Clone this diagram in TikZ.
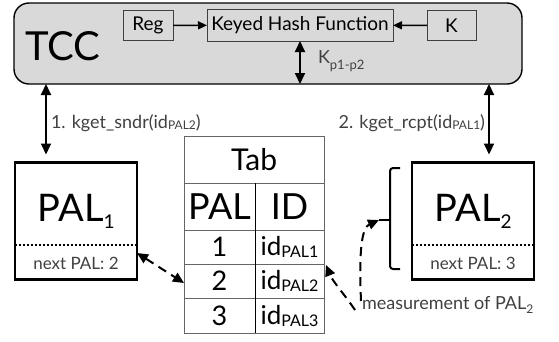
\documentclass[tikz,border=0pt]{standalone}
\usepackage{fontspec}
\setmainfont{Lato}
\usetikzlibrary{arrows.meta}
\newcommand{\fs}[1]{\fontsize{#1}{#1}\selectfont}
\newcommand{\lsub}[3]{\raisebox{#1}{\fs{#2}#3}}
\begin{document}
\begin{tikzpicture}[x=1pt,y=-1pt,
  box/.style={draw, inner sep=0pt, outer sep=0pt},
  tccbox/.style={box, rounded corners=15pt, fill=gray!30, line width=1.4pt, minimum width=508pt, minimum height=81pt},
  smallbox/.style={box, draw=black!75, fill=gray!30, line width=0.9pt, font=\fs{19}},
  palbox/.style={box, line width=2.4pt, minimum width=122pt, minimum height=117pt},
  cell/.style={box, draw=black!60, line width=0.8pt},
  txt/.style={inner sep=0pt, outer sep=0pt},
  lbl/.style={txt, text=black!75, font=\fs{18}},
  sarr/.style={line width=1.5pt, -{Triangle[length=9pt,width=8pt]}},
  darr/.style={line width=2pt, {Triangle[length=11pt,width=10pt]}-{Triangle[length=11pt,width=10pt]}},
  dsh/.style={line width=2pt, dash pattern=on 9pt off 6pt},
  dotline/.style={line width=2pt, dash pattern=on 2pt off 2pt}
]
\useasboundingbox (0,0) rectangle (559,341);
% TCC
\node[tccbox] (tcc) at (268,43.5) {};
\node[txt, font=\fs{40}] (tcclbl) at (63,46) {TCC};
\node[smallbox, minimum width=50pt, minimum height=30pt] (reg) at (148,25.5) {Reg};
\node[smallbox, minimum width=186pt, minimum height=32pt] (khf) at (300,25) {Keyed Hash Function};
\node[smallbox, minimum width=49pt, minimum height=30pt] (k) at (451.5,25.5) {K};
\draw[sarr] (reg) -- (khf);
\draw[sarr] (k) -- (khf);
\draw[darr] (khf.south) -- (khf.south |- tcc.south);
\node[lbl, anchor=west] (kp) at (318,61) {K\lsub{-6pt}{13}{p1-p2}};
% PAL boxes
\node[palbox] (pal1) at (76,221) {};
\node[palbox] (pal2) at (473,221) {};
\draw[dotline] ([yshift=-24pt]pal1.west) -- ([yshift=-24pt]pal1.east);
\draw[dotline] ([yshift=-24pt]pal2.west) -- ([yshift=-24pt]pal2.east);
\node[txt, font=\fs{38}, anchor=base] (pal1lbl) at (76,221) {PAL\lsub{-7pt}{19}{1}};
\node[txt, font=\fs{38}, anchor=base] (pal2lbl) at (473,221) {PAL\lsub{-7pt}{19}{2}};
\node[lbl, font=\fs{17}] (next1) at (76,263) {next PAL: 2};
\node[lbl, font=\fs{17}] (next2) at (473,263) {next PAL: 3};
% vertical arrows
\draw[darr] ([xshift=32pt]tcc.south west) -- ([xshift=31pt,yshift=8pt]pal1.north west);
\draw[darr] ([xshift=-33pt]tcc.south east) -- ([xshift=77pt,yshift=8pt]pal2.north west);
\node[lbl, anchor=west] (l1) at (51,123) {1. kget\_sndr(id\lsub{-1pt}{12}{PAL2})};
\node[lbl, anchor=east] (l2) at (485,123) {2. kget\_rcpt(id\lsub{-1pt}{12}{PAL1})};
% table
\node[cell, minimum width=140pt, minimum height=47pt, font=\fs{30}] (tabh) at (254,159.5) {Tab};
\node[cell, minimum width=71pt, minimum height=47pt, font=\fs{36}] (palh) at (219.5,206.5) {PAL};
\node[cell, minimum width=69pt, minimum height=47pt, font=\fs{36}] (idh) at (289.5,206.5) {ID};
\node[cell, minimum width=71pt, minimum height=34pt, font=\fs{27}] (p1) at (219.5,247) {1};
\node[cell, minimum width=69pt, minimum height=34pt, font=\fs{26}] (i1) at (289.5,247) {id\lsub{-2pt}{16}{PAL1}};
\node[cell, minimum width=71pt, minimum height=34pt, font=\fs{27}] (p2) at (219.5,281) {2};
\node[cell, minimum width=69pt, minimum height=34pt, font=\fs{26}] (i2) at (289.5,281) {id\lsub{-2pt}{16}{PAL2}};
\node[cell, minimum width=71pt, minimum height=35pt, font=\fs{27}] (p3) at (219.5,315.5) {3};
\node[cell, minimum width=69pt, minimum height=35pt, font=\fs{26}] (i3) at (289.5,315.5) {id\lsub{-2pt}{16}{PAL3}};
\draw[line width=1pt] (palh.north east) -- (p3.south east);
% brace
\draw[line width=2pt, rounded corners=3pt] (400,168) -- (390,168) -- (390,269) -- (400,269);
\coordinate (nub) at (379,220);
\draw[line width=2pt] (390,220) -- (nub);
% measurement
\node[lbl, anchor=west] (meas) at (362,305) {measurement of PAL\lsub{-4pt}{12}{2}};
\draw[dsh, -{Triangle[length=11pt,width=10pt]}] ([xshift=-1pt,yshift=4pt]meas.west) .. controls (359,255) and (361,228) .. (nub);
\draw[dsh, -{Triangle[length=11pt,width=10pt]}] ([xshift=-7pt,yshift=-5pt]meas.west) .. controls (345,295) and (333,282) .. ([xshift=2pt,yshift=-1pt]i2.north east);
\draw[dsh, {Triangle[length=11pt,width=10pt]}-{Triangle[length=11pt,width=10pt]}] ([yshift=-32pt]pal1.east) -- ([yshift=-2pt]p2.west);
\end{tikzpicture}
\end{document}
